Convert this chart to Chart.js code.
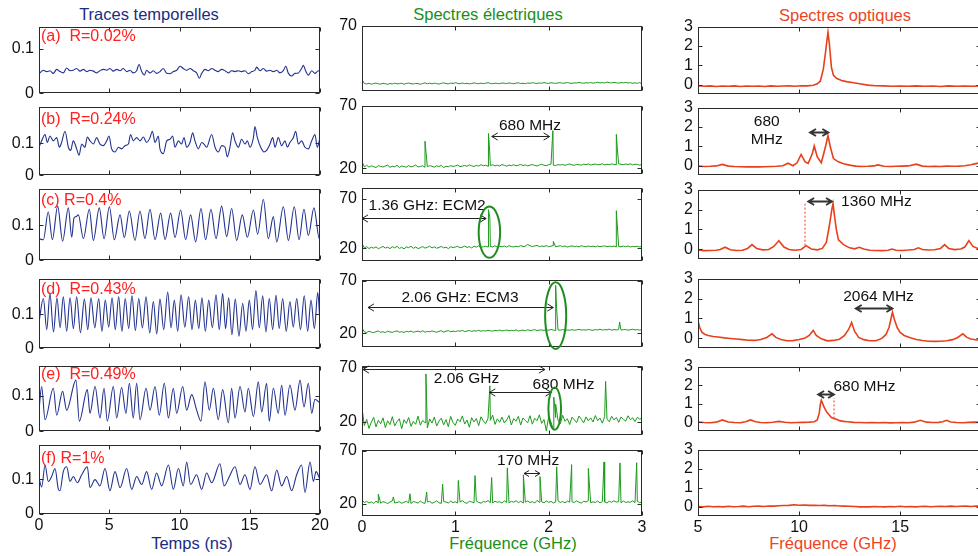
<!DOCTYPE html>
<html>
<head>
<meta charset="utf-8">
<script src="https://cdn.jsdelivr.net/npm/chart.js@4/dist/chart.umd.min.js"></script>
<style>
  html, body { margin: 0; padding: 0; background: #fff; overflow: hidden; width: 978px; height: 556px; }
  body { position: relative; }
  canvas { position: absolute; }
  .cap { position: absolute; font-family: "Liberation Sans", Arial, sans-serif; font-size: 16.5px; white-space: nowrap; transform: translate(-50%, -50%); }
</style>
</head>
<body>
<div class="cap" style="left:149px;top:14px;color:#1c2c80">Traces temporelles</div>
<div class="cap" style="left:488px;top:14px;color:#17901a">Spectres électriques</div>
<div class="cap" style="left:845px;top:15px;color:#ec4424">Spectres optiques</div>
<div class="cap" style="left:192px;top:543px;color:#1c2c80">Temps (ns)</div>
<div class="cap" style="left:513px;top:543px;color:#17901a">Fréquence (GHz)</div>
<div class="cap" style="left:833px;top:543px;color:#ec4424">Fréquence (GHz)</div>
<script>
// ---------- tick labels ----------
const traceTicksX = [0, 5, 10, 15, 20];
const traceTicksY = [0, 0.1];
const elecTicksX = [0, 1, 2, 3];
const elecTicksY = [20, 70];
const elecTicksYTop = [70];
const optTicksX = [5, 10, 15];
const optTicksY = [0, 1, 2, 3];

// ---------- time traces [t (ns), amplitude] ----------
const traceA = [[0,0.044],[0.31,0.052],[0.55,0.049],[0.78,0.051],[1.02,0.045],[1.26,0.054],[1.49,0.049],[1.73,0.046],[1.97,0.057],[2.21,0.051],[2.44,0.052],[2.68,0.056],[2.92,0.050],[3.16,0.054],[3.39,0.049],[3.63,0.052],[3.87,0.050],[4.10,0.046],[4.34,0.051],[4.58,0.054],[4.82,0.052],[5.05,0.056],[5.29,0.050],[5.53,0.054],[5.77,0.051],[6.00,0.056],[6.24,0.049],[6.48,0.052],[6.71,0.046],[6.95,0.051],[7.12,0.065],[7.31,0.049],[7.50,0.041],[7.66,0.052],[7.90,0.046],[8.14,0.051],[8.37,0.045],[8.61,0.049],[8.85,0.056],[9.09,0.045],[9.32,0.044],[9.56,0.049],[9.80,0.052],[10.04,0.061],[10.27,0.056],[10.51,0.052],[10.75,0.056],[10.98,0.051],[11.22,0.046],[11.41,0.034],[11.58,0.045],[11.81,0.054],[12.05,0.051],[12.29,0.056],[12.53,0.052],[12.76,0.049],[13.00,0.054],[13.24,0.051],[13.48,0.046],[13.71,0.051],[13.95,0.049],[14.19,0.051],[14.42,0.049],[14.66,0.051],[14.90,0.044],[15.14,0.049],[15.37,0.052],[15.49,0.059],[15.73,0.051],[15.97,0.056],[16.20,0.050],[16.44,0.052],[16.68,0.049],[16.92,0.052],[17.15,0.046],[17.39,0.051],[17.56,0.061],[17.75,0.045],[17.98,0.039],[18.22,0.045],[18.46,0.046],[18.69,0.056],[18.81,0.063],[19.00,0.049],[19.17,0.041],[19.41,0.051],[19.64,0.045],[19.88,0.051],[20,0.049]];
const traceB = [[0,0.088],[0.19,0.108],[0.43,0.128],[0.59,0.103],[0.78,0.123],[1.02,0.108],[1.26,0.118],[1.45,0.088],[1.61,0.103],[1.85,0.138],[2.09,0.088],[2.25,0.078],[2.44,0.108],[2.68,0.083],[2.85,0.063],[3.04,0.098],[3.27,0.088],[3.44,0.120],[3.63,0.108],[3.87,0.098],[4.10,0.118],[4.34,0.098],[4.58,0.093],[4.82,0.108],[4.98,0.123],[5.17,0.083],[5.41,0.073],[5.65,0.088],[5.88,0.083],[6.12,0.093],[6.36,0.098],[6.52,0.128],[6.71,0.108],[6.95,0.118],[7.19,0.108],[7.43,0.120],[7.66,0.103],[7.90,0.118],[8.07,0.138],[8.26,0.103],[8.49,0.123],[8.61,0.083],[8.85,0.068],[9.09,0.108],[9.32,0.113],[9.51,0.123],[9.68,0.088],[9.92,0.108],[10.15,0.098],[10.32,0.118],[10.51,0.088],[10.75,0.103],[10.94,0.133],[11.10,0.108],[11.34,0.083],[11.58,0.103],[11.74,0.098],[11.93,0.088],[12.29,0.128],[12.53,0.088],[12.76,0.073],[13.00,0.093],[13.24,0.088],[13.40,0.058],[13.59,0.088],[13.78,0.133],[13.95,0.108],[14.19,0.088],[14.42,0.113],[14.66,0.098],[14.83,0.108],[15.02,0.088],[15.26,0.118],[15.37,0.153],[15.54,0.118],[15.78,0.088],[16.01,0.073],[16.20,0.078],[16.44,0.098],[16.63,0.118],[16.80,0.088],[17.03,0.118],[17.27,0.093],[17.51,0.108],[17.68,0.088],[17.86,0.103],[18.10,0.118],[18.27,0.138],[18.46,0.098],[18.69,0.108],[18.93,0.088],[19.17,0.083],[19.41,0.108],[19.64,0.128],[19.81,0.088],[20,0.118]];
const traceC = [[0,0.062],[0.31,0.059],[0.66,0.139],[0.95,0.059],[1.33,0.155],[1.68,0.055],[2.09,0.150],[2.33,0.066],[2.49,0.121],[2.63,0.125],[2.80,0.130],[3.16,0.062],[3.58,0.146],[3.87,0.057],[4.29,0.150],[4.63,0.062],[5.01,0.153],[5.36,0.059],[5.77,0.130],[6.07,0.065],[6.43,0.141],[6.83,0.057],[7.19,0.141],[7.54,0.062],[7.90,0.146],[8.26,0.059],[8.66,0.135],[8.97,0.059],[9.37,0.135],[9.68,0.065],[10.08,0.144],[10.44,0.059],[10.79,0.130],[11.15,0.053],[11.53,0.148],[11.86,0.059],[12.24,0.146],[12.60,0.062],[13.00,0.155],[13.36,0.068],[13.71,0.148],[14.07,0.057],[14.47,0.130],[14.83,0.066],[15.26,0.144],[15.56,0.075],[15.97,0.174],[16.32,0.062],[16.68,0.125],[16.92,0.053],[17.39,0.153],[17.75,0.057],[18.17,0.153],[18.51,0.059],[18.86,0.146],[19.17,0.071],[19.57,0.150],[19.95,0.062],[20,0.066]];
const traceD = [[0,0.077],[0.31,0.146],[0.55,0.055],[0.78,0.160],[1.03,0.048],[1.28,0.148],[1.50,0.060],[1.73,0.151],[1.97,0.050],[2.21,0.148],[2.45,0.058],[2.68,0.151],[2.95,0.046],[3.23,0.144],[3.47,0.055],[3.70,0.148],[3.97,0.060],[4.25,0.146],[4.48,0.050],[4.72,0.141],[4.96,0.062],[5.20,0.148],[5.43,0.055],[5.67,0.151],[5.90,0.050],[6.14,0.146],[6.38,0.058],[6.62,0.154],[6.86,0.052],[7.10,0.146],[7.36,0.060],[7.62,0.151],[7.88,0.045],[8.14,0.137],[8.38,0.042],[8.61,0.144],[8.88,0.055],[9.16,0.165],[9.40,0.060],[9.63,0.141],[9.87,0.050],[10.11,0.157],[10.38,0.062],[10.65,0.151],[10.89,0.055],[11.13,0.141],[11.37,0.058],[11.60,0.148],[11.84,0.050],[12.08,0.141],[12.34,0.060],[12.60,0.157],[12.83,0.055],[13.07,0.160],[13.28,0.058],[13.50,0.148],[13.73,0.040],[13.97,0.144],[14.23,0.036],[14.50,0.132],[14.73,0.050],[14.97,0.141],[15.20,0.055],[15.44,0.169],[15.68,0.060],[15.92,0.154],[16.15,0.048],[16.39,0.146],[16.63,0.055],[16.87,0.155],[17.10,0.058],[17.34,0.146],[17.60,0.050],[17.86,0.137],[18.10,0.062],[18.34,0.146],[18.61,0.055],[18.88,0.154],[19.12,0.050],[19.36,0.141],[19.60,0.058],[19.84,0.163],[20,0.075]];
const traceE = [[0,0.060],[0.19,0.127],[0.43,0.033],[1.02,0.122],[1.26,0.046],[1.68,0.113],[1.97,0.060],[2.63,0.145],[2.87,0.029],[3.44,0.118],[3.63,0.051],[3.99,0.127],[4.34,0.038],[4.63,0.122],[4.86,0.029],[5.29,0.127],[5.53,0.038],[5.88,0.124],[6.19,0.051],[6.43,0.136],[6.71,0.038],[6.95,0.136],[7.19,0.033],[7.62,0.122],[7.90,0.060],[8.26,0.127],[8.56,0.046],[8.92,0.136],[9.21,0.038],[9.56,0.122],[9.80,0.051],[10.23,0.127],[10.51,0.060],[10.87,0.104],[11.22,0.060],[11.53,0.029],[11.81,0.140],[12.12,0.060],[12.41,0.122],[12.76,0.033],[13.07,0.118],[13.48,0.024],[13.71,0.122],[13.95,0.038],[14.31,0.127],[14.66,0.055],[14.90,0.122],[15.26,0.042],[15.61,0.140],[15.85,0.055],[16.20,0.136],[16.39,0.029],[16.68,0.122],[17.03,0.051],[17.27,0.131],[17.51,0.046],[17.86,0.131],[18.22,0.060],[18.58,0.145],[18.86,0.069],[19.17,0.136],[19.41,0.051],[19.64,0.091],[19.95,0.082]];
const traceF = [[0,0.104],[0.19,0.078],[0.43,0.141],[0.66,0.094],[0.90,0.108],[1.14,0.131],[1.38,0.071],[1.49,0.067],[1.73,0.122],[1.97,0.136],[2.21,0.094],[2.44,0.108],[2.73,0.090],[3.04,0.113],[3.44,0.136],[3.63,0.076],[3.99,0.099],[4.34,0.081],[4.70,0.131],[5.05,0.067],[5.41,0.122],[5.77,0.076],[6.24,0.131],[6.60,0.071],[6.95,0.108],[7.31,0.085],[7.66,0.122],[8.02,0.071],[8.37,0.118],[8.73,0.081],[9.21,0.141],[9.56,0.071],[9.92,0.131],[10.27,0.081],[10.51,0.150],[10.79,0.085],[11.22,0.113],[11.58,0.071],[11.93,0.118],[12.29,0.090],[12.88,0.145],[13.17,0.081],[13.55,0.108],[13.95,0.136],[14.31,0.085],[14.66,0.113],[15.02,0.071],[15.37,0.136],[15.73,0.085],[16.20,0.113],[16.56,0.067],[16.92,0.127],[17.27,0.081],[17.63,0.108],[17.98,0.067],[18.34,0.113],[18.69,0.141],[18.93,0.062],[19.29,0.150],[19.53,0.094],[19.72,0.122],[20,0.099]];

// ---------- electrical spectra: noise floor sampled evenly over 0-3 GHz, plus lines ----------
const elecSpan = [0, 3];
const elecFloorA = [24.8,21.6,21.2,21.8,21.0,21.5,22.0,21.3,21.1,21.7,21.4,20.9,21.6,21.2,21.9,21.3,21.5,21.8,21.0,21.6,22.0,21.4,21.2,21.7,21.5,21.0,21.6,22.1,21.4,21.8,21.3,21.9,21.5,21.1,21.7,22.2,21.6,21.3,21.9,21.6,22.3,21.7,21.4,22.0,21.5,21.8,21.3,21.6,22.1,21.7,21.4,21.9,21.5,21.8,22.4,21.6,21.4,21.9,21.7,21.5,22.0,21.8,21.6,22.1,21.7,21.4,21.9,22.2,21.6,21.8,21.5,22.0,21.7,22.3,21.9,21.6,22.1,21.8,22.4,21.9,21.7,22.2,22.0,21.6,22.1,22.3,21.8,22.0,22.4,21.9,21.7,22.2,22.0,22.5,22.1,21.8,22.3,22.0,22.4,21.9,22.2,22.6,22.1,22.4,22.0,22.8,22.3,22.1,22.5,22.2,21.9,22.4,22.1,22.5,22.0,22.3,21.8,22.2,21.7,22.4,21.3];
const elecFloorB = [25.5,21.0,22.3,20.8,21.9,21.2,20.5,22.0,21.4,20.9,21.8,22.4,20.7,21.5,21.1,22.2,20.6,21.7,21.3,20.8,22.1,21.0,21.6,22.5,20.9,21.4,21.9,20.7,21.2,22.0,21.5,20.8,21.9,21.3,22.3,20.4,21.6,21.1,22.0,21.4,21.8,22.5,21.2,21.7,22.1,21.5,22.6,21.9,21.3,22.2,21.6,22.8,21.9,22.3,21.5,22.0,22.7,21.8,22.4,21.7,22.9,22.2,21.6,22.5,22.0,22.8,21.9,22.3,23.0,22.1,22.6,21.8,22.4,22.9,22.2,21.7,22.5,23.1,22.3,22.0,22.7,23.2,22.4,22.1,22.8,22.5,23.0,22.2,22.9,23.3,22.6,22.3,23.0,22.7,22.4,23.2,22.8,23.4,22.5,23.0,23.3,22.7,22.9,23.5,22.6,23.1,22.8,23.4,23.0,22.7,23.6,23.1,22.8,23.3,22.9,23.5,22.6,23.2,23.0,22.4,23.1];
const elecFloorC = [25.0,20.5,21.8,19.9,21.2,20.3,21.6,19.7,20.9,22.0,20.4,21.3,19.8,21.7,20.6,22.1,20.0,21.0,19.6,21.5,20.8,22.2,20.1,21.4,19.9,20.7,21.9,20.3,21.1,22.3,20.5,21.6,20.2,21.0,22.0,20.6,21.3,19.8,21.7,20.9,21.4,22.1,20.7,21.2,22.4,21.0,21.8,20.5,22.2,21.3,22.6,21.1,21.7,22.3,21.4,22.0,21.5,22.7,21.2,22.1,21.6,22.4,21.3,22.8,21.9,21.5,22.2,21.7,22.9,21.8,22.3,24.0,22.7,21.9,22.5,23.1,21.8,22.4,22.0,22.8,21.7,22.3,22.9,21.6,22.2,22.7,21.9,22.5,21.4,22.1,22.6,21.8,22.3,21.5,22.8,22.0,21.7,22.4,21.9,22.2,21.6,22.5,21.8,22.1,22.6,21.7,22.3,21.9,22.4,21.5,22.0,21.6,22.3,21.8,22.5,21.4,22.1,21.7,22.2,21.5,21.9];
const elecFloorD = [25.0,21.2,20.6,21.8,21.0,20.4,21.5,22.0,20.8,21.3,20.5,21.9,21.1,20.7,21.6,22.1,20.9,21.4,20.6,21.8,21.2,22.0,20.8,21.5,21.9,21.1,22.2,20.9,21.6,21.3,22.1,21.4,20.8,21.7,22.3,21.0,21.8,22.4,21.3,21.9,21.5,22.2,21.8,22.6,21.4,22.0,22.5,21.7,22.3,21.9,22.7,21.8,22.4,22.0,22.8,22.2,21.9,22.6,22.3,22.9,22.1,22.5,23.0,22.2,22.7,22.4,23.1,22.0,22.6,22.9,22.3,23.2,22.5,22.8,23.4,22.4,22.9,23.0,22.6,23.3,22.7,23.5,22.9,22.4,23.1,22.8,23.4,22.6,23.0,22.8,23.3,22.7,23.1,23.6,22.9,23.2,22.8,23.5,23.0,22.7,23.4,23.0,23.7,22.9,23.3,23.1,23.8,22.8,23.4,23.0,23.6,22.9,23.3,23.5,22.8,23.2,23.7,23.0,23.4,22.9,23.2];
const elecFloorE = [33.0,16.5,22.1,13.8,19.6,24.0,15.2,21.3,18.0,23.5,14.6,20.8,17.3,24.6,16.1,19.9,22.7,13.5,21.8,18.4,23.9,15.7,20.2,17.6,25.1,16.8,21.0,19.1,14.2,22.5,18.7,24.3,16.0,20.6,23.2,17.1,21.9,15.4,24.8,19.3,16.6,22.4,20.0,25.3,17.8,21.5,14.9,23.7,19.8,22.9,16.3,24.5,20.7,18.2,23.0,21.2,26.0,17.5,22.6,19.5,24.2,18.8,21.6,25.7,17.0,22.8,20.4,24.9,16.9,23.4,21.1,19.0,25.5,17.7,23.1,20.9,26.3,18.5,22.0,11.5,24.6,19.6,13.0,23.8,21.4,18.1,25.9,20.3,22.7,17.4,24.1,21.7,19.2,25.2,22.3,18.9,24.4,20.8,23.5,19.7,25.6,21.0,23.3,18.6,24.7,22.1,20.0,25.0,21.6,23.9,19.4,24.3,22.2,20.5,25.4,21.8,23.6,20.1,24.0,22.4,23.0];
const elecFloorF = [24.0,21.3,22.4,20.8,21.9,20.5,22.6,21.1,20.7,22.2,21.5,20.3,21.8,22.9,20.9,21.4,22.1,20.6,21.7,22.5,21.0,20.4,22.3,21.6,20.8,22.7,21.2,20.5,21.9,22.4,20.7,21.5,23.0,21.1,20.6,22.2,21.8,20.9,22.6,21.3,22.0,20.8,21.7,23.1,21.4,20.6,22.5,21.9,21.0,22.8,21.5,20.7,22.3,21.8,23.2,21.1,20.9,22.6,21.6,22.1,20.8,22.9,21.4,21.0,22.4,21.7,23.0,21.2,22.5,20.9,21.8,22.7,21.3,22.2,20.8,23.3,21.6,22.0,21.1,22.8,21.5,22.4,20.9,21.9,23.0,21.4,22.3,21.0,22.6,21.7,22.1,21.3,22.9,21.6,20.8,22.5,21.9,23.1,21.2,22.0,21.4,22.7,21.0,22.3,21.8,20.9,22.6,21.5,23.0,21.7,22.2,21.1,22.8,21.4,22.0,21.6,22.9,21.3,22.4,21.2,21.8];

const elecLinesB = { freq: [0.675, 1.355, 1.365, 2.045, 2.725, 2.735], level: [41.5, 47.7, 38.0, 50.0, 47.0, 36.0] };
const elecLinesC = { freq: [1.355, 1.37, 2.05, 2.725], level: [58.8, 50.6, 27.0, 57.8] };
const elecLinesD = { freq: [2.075, 2.085, 2.76], level: [65.5, 44.0, 30.6] };
const elecLinesE = { freq: [0.685, 1.37, 2.055, 2.075, 2.61], level: [63.8, 52.9, 42.6, 36.0, 57.0] };
const elecLinesF = {
  freq:  [0.175, 0.336, 0.514, 0.693, 0.864, 1.032, 1.211, 1.389, 1.557, 1.729, 1.907, 2.086, 2.246, 2.425, 2.593, 2.764, 2.943],
  level: [29.1, 26.6, 29.6, 31.2, 38.7, 42.1, 46.6, 44.8, 53.9, 47.3, 45.7, 54.8, 56.9, 53.3, 59.4, 58.5, 58.7]
};

// ---------- optical spectra [frequency offset (GHz), power] ----------
const optA = [[5,-0.05],[5.3,-0.08],[5.6,-0.06],[5.9,-0.09],[6.2,-0.07],[6.5,-0.08],[6.8,-0.06],[7.1,-0.09],[7.4,-0.07],[7.7,-0.08],[8.0,-0.07],[8.3,-0.09],[8.6,-0.06],[8.9,-0.08],[9.2,-0.07],[9.5,-0.06],[9.8,-0.08],[10.1,-0.05],[10.4,-0.06],[10.7,-0.03],[10.9,0.05],[11.05,0.18],[11.2,0.8],[11.3,1.6],[11.38,2.3],[11.43,2.71],[11.5,2.1],[11.6,0.9],[11.7,0.49],[11.85,0.33],[12.1,0.22],[12.35,0.16],[12.7,0.1],[13.0,0.05],[13.4,-0.02],[13.8,-0.05],[14.2,-0.06],[14.6,-0.08],[15.0,-0.07],[15.4,-0.08],[15.8,-0.06],[16.2,-0.08],[16.6,-0.07],[17.0,-0.09],[17.4,-0.06],[17.8,-0.08],[18.2,-0.07],[18.6,-0.08],[19.0,-0.06]];
const optB = [[5,-0.02],[5.3,-0.04],[5.6,-0.03],[5.9,-0.01],[6.2,0.07],[6.5,-0.02],[6.8,-0.04],[7.1,-0.05],[7.4,-0.06],[7.7,-0.05],[8.0,-0.06],[8.3,-0.05],[8.6,-0.04],[8.9,-0.03],[9.2,0.0],[9.45,0.13],[9.7,0.0],[9.9,0.15],[10.1,0.58],[10.3,0.2],[10.45,0.12],[10.65,0.6],[10.75,1.02],[10.9,0.45],[11.1,0.15],[11.3,0.95],[11.43,1.56],[11.55,0.95],[11.7,0.37],[11.95,0.2],[12.2,0.1],[12.5,0.03],[12.8,-0.02],[13.1,-0.04],[13.4,-0.03],[13.7,-0.01],[13.9,0.04],[14.2,-0.03],[14.5,-0.04],[14.8,-0.03],[15.1,-0.02],[15.4,-0.01],[15.8,0.08],[16.1,-0.02],[16.4,-0.04],[16.7,-0.03],[17.0,-0.04],[17.3,-0.02],[17.6,-0.03],[17.9,-0.02],[18.2,0.0],[18.5,0.05],[18.8,0.12],[19.0,0.2]];
const optC = [[5,-0.03],[5.3,-0.06],[5.6,-0.05],[5.9,-0.04],[6.1,0.0],[6.34,0.11],[6.6,-0.02],[6.9,-0.05],[7.2,-0.04],[7.45,0.05],[7.67,0.24],[7.9,0.05],[8.2,-0.02],[8.5,0.0],[8.75,0.15],[9.0,0.44],[9.25,0.12],[9.5,0.0],[9.8,-0.04],[10.1,0.0],[10.35,0.19],[10.6,0.02],[10.9,-0.02],[11.15,0.05],[11.35,0.35],[11.5,1.2],[11.62,2.0],[11.68,2.3],[11.75,1.7],[11.85,0.95],[11.95,0.48],[12.2,0.24],[12.5,0.08],[12.75,0.03],[12.98,0.11],[13.2,0.02],[13.5,-0.04],[13.8,-0.05],[14.1,-0.06],[14.4,-0.04],[14.6,0.02],[14.8,-0.04],[15.1,-0.05],[15.4,-0.03],[15.7,0.0],[15.9,0.08],[16.1,0.0],[16.4,-0.03],[16.7,-0.02],[17.0,0.05],[17.2,0.24],[17.4,0.05],[17.7,-0.01],[18.0,0.02],[18.2,0.12],[18.4,0.44],[18.6,0.15],[18.9,0.02],[19.0,0.0]];
const optD = [[5,0.88],[5.1,0.5],[5.2,0.3],[5.35,0.2],[5.5,0.15],[5.75,0.1],[6.0,0.07],[6.3,0.03],[6.6,0.0],[6.9,-0.03],[7.2,-0.06],[7.5,-0.09],[7.8,-0.1],[8.1,-0.05],[8.4,0.05],[8.66,0.23],[8.85,0.05],[9.1,-0.05],[9.4,-0.12],[9.7,-0.11],[10.0,-0.05],[10.3,0.02],[10.5,0.15],[10.7,0.4],[10.85,0.15],[11.1,-0.02],[11.4,-0.12],[11.7,-0.1],[12.0,-0.04],[12.25,0.15],[12.45,0.45],[12.6,0.8],[12.75,0.35],[12.95,0.05],[13.2,-0.06],[13.5,-0.12],[13.8,-0.12],[14.1,0.0],[14.3,0.2],[14.45,0.55],[14.55,1.0],[14.62,1.32],[14.7,1.0],[14.85,0.55],[15.0,0.3],[15.2,0.15],[15.5,0.03],[15.8,-0.05],[16.1,-0.1],[16.4,-0.14],[16.7,-0.15],[17.0,-0.14],[17.3,-0.12],[17.6,-0.06],[17.85,0.05],[18.1,0.23],[18.3,0.05],[18.5,-0.03],[18.8,-0.08],[19.0,-0.06]];
const optE = [[5,0.0],[5.3,-0.02],[5.6,-0.03],[5.9,0.0],[6.2,0.12],[6.5,0.01],[6.8,-0.02],[7.1,-0.03],[7.35,0.02],[7.6,0.12],[7.85,0.02],[8.1,-0.02],[8.4,-0.03],[8.7,-0.01],[9.0,0.04],[9.3,-0.01],[9.6,-0.03],[9.9,-0.02],[10.2,-0.01],[10.5,0.0],[10.75,0.02],[10.9,0.12],[11.0,0.5],[11.05,0.95],[11.1,1.18],[11.17,1.0],[11.25,0.78],[11.35,0.58],[11.45,0.44],[11.6,0.25],[11.72,0.2],[11.85,0.15],[12.0,0.08],[12.2,0.04],[12.4,0.02],[12.7,-0.01],[13.0,-0.02],[13.3,-0.03],[13.6,-0.02],[13.9,-0.03],[14.2,-0.02],[14.5,-0.04],[14.8,-0.03],[15.1,-0.02],[15.4,-0.03],[15.7,0.0],[16.0,0.1],[16.3,0.0],[16.6,-0.02],[16.9,-0.01],[17.1,0.02],[17.3,0.1],[17.5,0.01],[17.8,-0.02],[18.1,-0.03],[18.4,-0.01],[18.7,0.0],[19.0,-0.01]];
const optF = [[5,0.0],[5.25,-0.02],[5.5,0.01],[5.75,-0.01],[6.0,0.0],[6.25,-0.02],[6.5,0.01],[6.75,-0.01],[7.0,0.0],[7.25,0.02],[7.5,-0.01],[7.75,0.01],[8.0,0.02],[8.25,0.0],[8.5,0.03],[8.75,0.02],[9.0,0.04],[9.25,0.05],[9.5,0.06],[9.75,0.09],[10.0,0.07],[10.25,0.08],[10.5,0.06],[10.75,0.07],[11.0,0.05],[11.25,0.06],[11.5,0.04],[11.75,0.05],[12.0,0.03],[12.25,0.02],[12.5,0.01],[12.75,0.0],[13.0,-0.02],[13.25,-0.01],[13.5,-0.02],[13.75,0.0],[14.0,-0.01],[14.25,-0.02],[14.5,0.0],[14.75,-0.01],[15.0,0.01],[15.25,-0.01],[15.5,0.0],[15.75,-0.02],[16.0,0.0],[16.25,0.01],[16.5,-0.01],[16.75,0.0],[17.0,0.01],[17.25,0.0],[17.5,0.02],[17.75,0.0],[18.0,0.01],[18.25,0.02],[18.5,0.0],[18.75,0.03],[19.0,0.02]];

// ---------- helpers ----------
const FONT = '"Liberation Sans", Arial, sans-serif';
const pairs = arr => arr.map(([x, y]) => ({ x, y }));
function spectrum(floor, lines) {
  const [f0, f1] = elecSpan;
  const pts = floor.map((v, i) => ({ x: f0 + i * (f1 - f0) / (floor.length - 1), y: v }));
  if (lines) lines.freq.forEach((f, k) => pts.push({ x: f, y: lines.level[k] }));
  return pts.sort((a, b) => a.x - b.x);
}

function drawArrow(ctx, x1, x2, y, head) {
  ctx.beginPath();
  ctx.moveTo(x1, y); ctx.lineTo(x2, y);
  ctx.moveTo(x1 + head, y - head * 0.6); ctx.lineTo(x1, y); ctx.lineTo(x1 + head, y + head * 0.6);
  ctx.moveTo(x2 - head, y - head * 0.6); ctx.lineTo(x2, y); ctx.lineTo(x2 - head, y + head * 0.6);
  ctx.stroke();
}

// frame, inner tick marks, panel tag and annotations for one panel
function decorations(p) {
  return {
    id: 'deco',
    afterDraw(chart) {
      const { ctx, chartArea: a } = chart;
      const xs = chart.scales.x, ys = chart.scales.y;
      const l = Math.round(a.left) + 0.5, r = Math.round(a.right) - 0.5;
      const t = Math.round(a.top) + 0.5, b = Math.round(a.bottom) - 0.5;
      ctx.save();
      ctx.strokeStyle = '#2a2a2a';
      ctx.lineWidth = 1;
      ctx.strokeRect(l, t, r - l, b - t);
      ctx.beginPath();
      xs.ticks.forEach(tk => {
        const px = Math.round(xs.getPixelForValue(tk.value)) + 0.5;
        ctx.moveTo(px, b); ctx.lineTo(px, b - 4);
        ctx.moveTo(px, t); ctx.lineTo(px, t + 4);
      });
      ys.ticks.forEach(tk => {
        const py = Math.round(ys.getPixelForValue(tk.value)) + 0.5;
        ctx.moveTo(l, py); ctx.lineTo(l + 4, py);
        ctx.moveTo(r, py); ctx.lineTo(r - 4, py);
      });
      ctx.stroke();

      if (p.tag) {
        ctx.font = '16px ' + FONT;
        ctx.fillStyle = '#ff2020';
        ctx.textAlign = 'left';
        ctx.textBaseline = 'middle';
        ctx.fillText(p.tag, a.left + 2, a.top + p.tagDy);
      }

      (p.notes || []).forEach(n => {
        const X = v => xs.getPixelForValue(v), Y = v => ys.getPixelForValue(v);
        if (n.kind === 'arrow') {
          ctx.strokeStyle = n.color || '#222';
          ctx.lineWidth = n.width || 1;
          ctx.setLineDash([]);
          drawArrow(ctx, X(n.x1), X(n.x2), Math.round(Y(n.y)) + 0.5, n.head || 6);
        } else if (n.kind === 'text') {
          ctx.font = '15.5px ' + FONT;
          ctx.fillStyle = '#111';
          ctx.textAlign = n.align || 'center';
          ctx.textBaseline = 'middle';
          ctx.fillText(n.text, X(n.x), Y(n.y));
        } else if (n.kind === 'ellipse') {
          const cx = X(n.cx), cy = Y(n.cy);
          const rx = Math.abs(X(n.cx + n.rx) - cx), ry = Math.abs(Y(n.cy + n.ry) - cy);
          ctx.strokeStyle = '#1e8c1e';
          ctx.lineWidth = 2;
          ctx.setLineDash([]);
          ctx.beginPath();
          ctx.ellipse(cx, cy, rx, ry, 0, 0, Math.PI * 2);
          ctx.stroke();
        } else if (n.kind === 'vline') {
          ctx.strokeStyle = '#f25a3a';
          ctx.lineWidth = 1.2;
          ctx.setLineDash([2, 2]);
          const px = Math.round(X(n.x));
          ctx.beginPath();
          ctx.moveTo(px, Y(n.y1)); ctx.lineTo(px, Y(n.y2));
          ctx.stroke();
          ctx.setLineDash([]);
        }
      });
      ctx.restore();
    }
  };
}

const AXW = 40, PADT = 12, PADR = 14;

function panel(p) {
  const [L, T, R, B] = p.rect;
  const bottom = p.xLabels ? 32 : 14;
  const W = (R - L) + AXW + PADR, H = (B - T) + PADT + bottom;
  const cv = document.createElement('canvas');
  cv.width = W; cv.height = H;
  cv.style.left = (L - AXW) + 'px';
  cv.style.top = (T - PADT) + 'px';
  cv.style.width = W + 'px';
  cv.style.height = H + 'px';
  document.body.appendChild(cv);
  const tickFont = { family: FONT, size: 16 };
  new Chart(cv, {
    type: 'line',
    data: {
      datasets: [{
        data: p.data,
        borderColor: p.color,
        borderWidth: p.lw,
        pointRadius: 0,
        fill: false,
        tension: p.smooth ? 0.4 : 0,
        cubicInterpolationMode: p.smooth ? 'monotone' : 'default'
      }]
    },
    options: {
      responsive: false,
      animation: false,
      devicePixelRatio: 1,
      events: [],
      layout: { padding: { top: PADT, right: PADR, left: 0, bottom: 0 } },
      plugins: { legend: { display: false }, tooltip: { enabled: false } },
      scales: {
        x: {
          type: 'linear', min: p.xr[0], max: p.xr[1],
          grid: { display: false, drawTicks: false }, border: { display: false },
          afterBuildTicks: s => { s.ticks = p.xt.map(v => ({ value: v })); },
          afterFit: s => { s.height = bottom; },
          ticks: { display: !!p.xLabels, autoSkip: false, maxRotation: 0, padding: 2, color: '#111', font: tickFont, callback: v => String(v) }
        },
        y: {
          type: 'linear', min: p.yr[0], max: p.yr[1],
          grid: { display: false, drawTicks: false }, border: { display: false },
          afterBuildTicks: s => { s.ticks = p.yt.map(v => ({ value: v })); },
          afterFit: s => { s.width = AXW; },
          ticks: { autoSkip: false, padding: 5, color: '#111', font: tickFont, callback: v => String(v) }
        }
      }
    },
    plugins: [decorations(p)]
  });
}

// ---------- column 1: time traces ----------
const blue = '#22328f';
const col1 = [
  { rect: [39, 24, 320, 94],   yr: [0, 0.15],  data: traceA, tag: '(a)  R=0.02%', tagDy: 10 },
  { rect: [39, 104, 320, 176], yr: [0, 0.215], data: traceB, tag: '(b)  R=0.24%', tagDy: 13 },
  { rect: [39, 186, 320, 261], yr: [0, 0.205], data: traceC, tag: '(c) R=0.4%',   tagDy: 12 },
  { rect: [39, 276, 320, 349], yr: [0, 0.204], data: traceD, tag: '(d)  R=0.43%', tagDy: 11 },
  { rect: [39, 363, 320, 432], yr: [0, 0.186], data: traceE, tag: '(e)  R=0.49%', tagDy: 9 },
  { rect: [39, 442, 320, 514], yr: [0, 0.2],   data: traceF, tag: '(f) R=1%',     tagDy: 14, xLabels: true }
];
col1.forEach(p => panel(Object.assign({}, p, {
  data: pairs(p.data), xr: [0, 20], xt: traceTicksX, yt: traceTicksY, color: blue, lw: 1.1, smooth: true
})));

// ---------- column 2: electrical spectra ----------
const green = '#1d9a1d';
const col2 = [
  { rect: [362, 23, 642, 92],   yr: [15, 70],   yt: elecTicksYTop, data: spectrum(elecFloorA) },
  { rect: [362, 103, 642, 175], yr: [15, 70],   data: spectrum(elecFloorB, elecLinesB), notes: [
      { kind: 'arrow', x1: 1.39, x2: 2.01, y: 45.4 },
      { kind: 'text', x: 1.8, y: 53.8, text: '680 MHz' } ] },
  { rect: [362, 185, 642, 262], yr: [7, 81],    data: spectrum(elecFloorC, elecLinesC), notes: [
      { kind: 'arrow', x1: 0.0, x2: 1.33, y: 50.3 },
      { kind: 'text', x: 0.07, y: 62.6, text: '1.36 GHz: ECM2', align: 'left' },
      { kind: 'ellipse', cx: 1.365, cy: 36.3, rx: 0.115, ry: 25.7 } ] },
  { rect: [362, 277, 642, 348], yr: [6.4, 71],  data: spectrum(elecFloorD, elecLinesD), notes: [
      { kind: 'arrow', x1: 0.064, x2: 2.05, y: 44.8 },
      { kind: 'text', x: 1.05, y: 53.3, text: '2.06 GHz: ECM3' },
      { kind: 'ellipse', cx: 2.075, cy: 36.6, rx: 0.113, ry: 31.8 } ] },
  { rect: [362, 363, 642, 436], yr: [7.4, 71.5], data: spectrum(elecFloorE, elecLinesE), notes: [
      { kind: 'arrow', x1: 0.01, x2: 1.96, y: 68.2 },
      { kind: 'text', x: 1.12, y: 59.4, text: '2.06 GHz' },
      { kind: 'arrow', x1: 1.364, x2: 2.03, y: 47.3 },
      { kind: 'text', x: 2.16, y: 54.4, text: '680 MHz' },
      { kind: 'ellipse', cx: 2.065, cy: 32, rx: 0.068, ry: 19.4 } ] },
  { rect: [362, 447, 642, 516], yr: [8.7, 71],  data: spectrum(elecFloorF, elecLinesF), xLabels: true, notes: [
      { kind: 'text', x: 1.78, y: 61, text: '170 MHz' },
      { kind: 'arrow', x1: 1.736, x2: 1.907, y: 48.7, head: 5 } ] }
];
col2.forEach(p => panel(Object.assign({ yt: elecTicksY }, p, {
  xr: elecSpan, xt: elecTicksX, color: green, lw: 1
})));

// ---------- column 3: optical spectra ----------
const red = '#e8401a';
const darkArrow = { color: '#333', width: 1.8, head: 6 };
const col3 = [
  { rect: [698, 24, 981, 95],   data: optA },
  { rect: [698, 105, 981, 176], data: optB, notes: [
      { kind: 'text', x: 8.4, y: 2.26, text: '680' },
      { kind: 'text', x: 8.4, y: 1.35, text: 'MHz' },
      Object.assign({ kind: 'arrow', x1: 10.54, x2: 11.45, y: 1.76 }, darkArrow) ] },
  { rect: [698, 187, 981, 260], data: optC, notes: [
      { kind: 'vline', x: 10.3, y1: 0.19, y2: 2.32 },
      Object.assign({ kind: 'arrow', x1: 10.45, x2: 11.63, y: 2.43 }, darkArrow),
      { kind: 'text', x: 12.08, y: 2.4, text: '1360 MHz', align: 'left' } ] },
  { rect: [698, 276, 981, 349], data: optD, notes: [
      Object.assign({ kind: 'arrow', x1: 12.8, x2: 14.62, y: 1.53 }, darkArrow),
      { kind: 'text', x: 13.93, y: 2.1, text: '2064 MHz' } ] },
  { rect: [698, 364, 981, 432], data: optE, notes: [
      { kind: 'vline', x: 11.72, y1: 0.2, y2: 1.3 },
      Object.assign({ kind: 'arrow', x1: 10.94, x2: 11.73, y: 1.51 }, darkArrow),
      { kind: 'text', x: 11.7, y: 1.94, text: '680 MHz', align: 'left' } ] },
  { rect: [698, 447, 981, 516], data: optF, xLabels: true }
];
col3.forEach(p => panel(Object.assign({}, p, {
  data: pairs(p.data), xr: [5, 19], xt: optTicksX, yr: [-0.5, 3], yt: optTicksY, color: red, lw: 1.6
})));
</script>
</body>
</html>
